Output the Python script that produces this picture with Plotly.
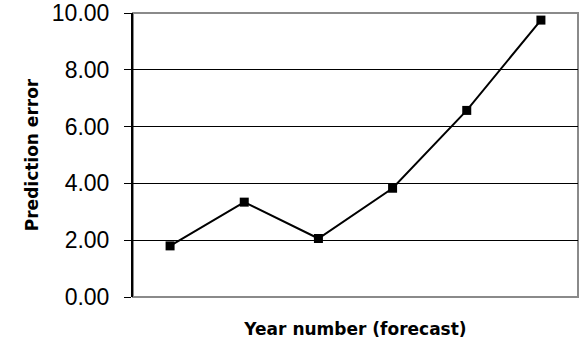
import plotly.graph_objects as go

# Forecast year index and the prediction error for each year
years = [1, 2, 3, 4, 5, 6]
prediction_error = [1.80, 3.34, 2.06, 3.83, 6.57, 9.75]
y_ticks = [0, 2, 4, 6, 8, 10]
y_tick_labels = ["0.00", "2.00", "4.00", "6.00", "8.00", "10.00"]

fig = go.Figure()
fig.add_trace(go.Scatter(
    x=years,
    y=prediction_error,
    mode="lines+markers",
    line=dict(color="black", width=2),
    marker=dict(symbol="square", size=9, color="black"),
    showlegend=False,
))

# gray frame around the plotting area (top, right, bottom)
fig.add_shape(type="rect", xref="x domain", yref="y domain",
              x0=0, x1=1, y0=0, y1=1,
              line=dict(color="#8a8a8a", width=2), layer="below")

title_font = dict(family="DejaVu Sans, sans-serif", size=17, color="black")

fig.update_layout(
    width=584, height=351,
    margin=dict(l=133, r=6, t=13, b=54),
    paper_bgcolor="white",
    plot_bgcolor="white",
    font=dict(family="Liberation Sans, Arial, sans-serif", color="black"),
    xaxis=dict(
        range=[0.5, 6.5],
        automargin=False,
        showticklabels=False,
        showgrid=False,
        zeroline=False,
        ticks="",
        title=dict(text="<b>Year number (forecast)</b>", font=title_font, standoff=26),
    ),
    yaxis=dict(
        range=[0, 10],
        automargin=False,
        tickvals=y_ticks,
        ticktext=y_tick_labels,
        tickfont=dict(size=23),
        ticks="outside",
        ticklen=7,
        tickcolor="black",
        ticklabelstandoff=10,
        showline=True,
        linecolor="black",
        linewidth=2,
        showgrid=True,
        gridcolor="black",
        gridwidth=1,
        zeroline=False,
        title=dict(text="<b>Prediction error</b>", font=title_font, standoff=9),
    ),
)

fig.write_html("out.html")
